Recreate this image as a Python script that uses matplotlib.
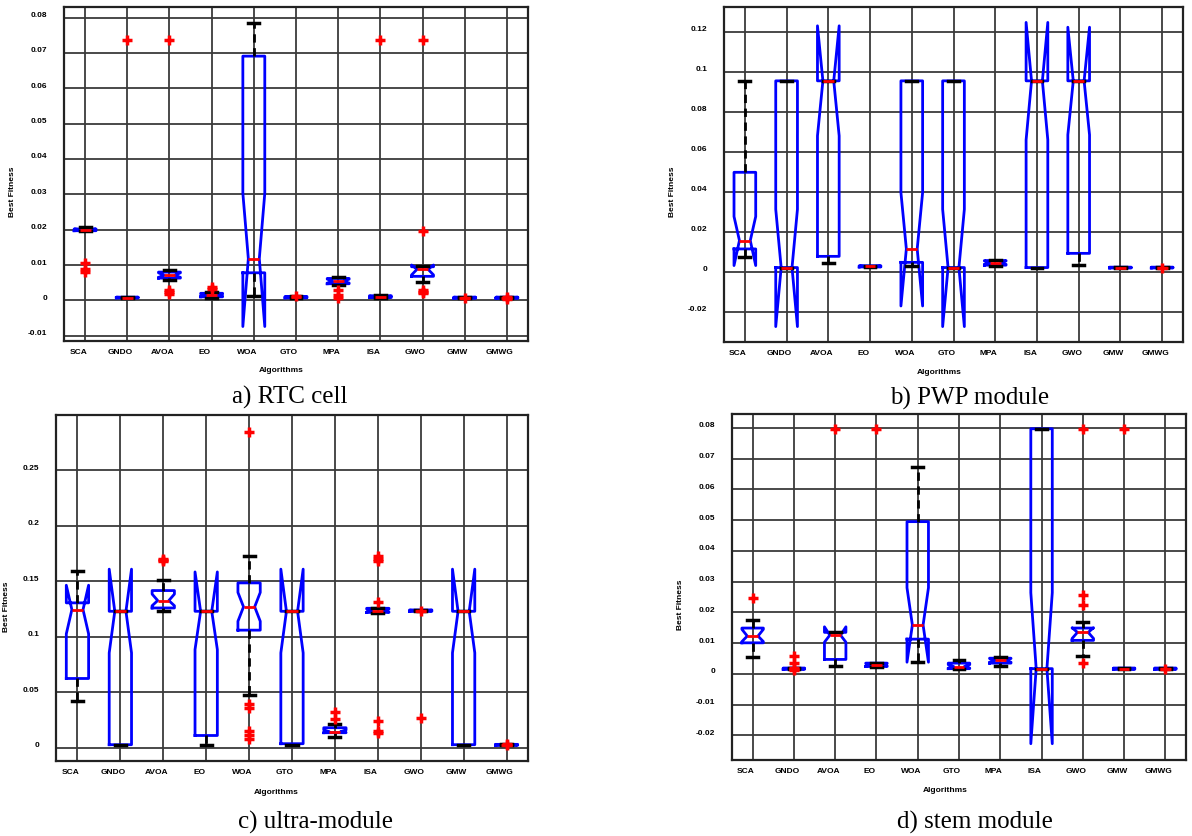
import numpy as np
import matplotlib
matplotlib.use("Agg")
import matplotlib.pyplot as plt
from matplotlib.transforms import ScaledTranslation

NAMES = ["SCA", "GNDO", "AVOA", "EO", "WOA", "GTO", "MPA", "ISA", "GWO", "GMW", "GMWG"]

# a) RTC cell
A_Q1 = [0.0197, 0.0007, 0.0063, 0.0010, 0.0078, 0.0007, 0.0047, 0.0008, 0.0068, 0.0006, 0.0006]
A_MED = [0.0200, 0.0008, 0.0071, 0.0015, 0.0118, 0.0009, 0.0054, 0.0010, 0.0088, 0.0008, 0.0008]
A_Q3 = [0.0202, 0.0009, 0.0080, 0.0020, 0.0691, 0.0011, 0.0062, 0.0013, 0.0095, 0.0009, 0.0009]
A_LO = [0.0195, 0.0007, 0.0058, 0.0006, 0.0012, 0.0006, 0.0043, 0.0007, 0.0052, 0.0006, 0.0006]
A_HI = [0.0207, 0.0009, 0.0087, 0.0024, 0.0786, 0.0012, 0.0067, 0.0014, 0.0097, 0.0009, 0.0009]
A_CILO = [0.0198, 0.0007, 0.0065, 0.0012, -0.0074, 0.0008, 0.0049, 0.0009, 0.0072, 0.0007, 0.0007]
A_CIHI = [0.0202, 0.0009, 0.0078, 0.0018, 0.0303, 0.0010, 0.0060, 0.0012, 0.0100, 0.0009, 0.0009]
A_FLIERS = [[0.0105, 0.0088, 0.0080], [0.0737], [0.0737, 0.0028, 0.0023, 0.0019],
            [0.0038, 0.0032], [], [0.0012], [0.0028, 0.0016, 0.0007], [0.0737],
            [0.0737, 0.0197, 0.0030, 0.0025, 0.0021], [0.0008], [0.0009, 0.0005]]

# b) PWP module
B_Q1 = [0.0115, 0.0022, 0.0078, 0.0025, 0.0048, 0.0022, 0.0034, 0.0022, 0.0093, 0.0020, 0.0020]
B_MED = [0.0157, 0.0022, 0.0955, 0.0028, 0.0115, 0.0022, 0.0047, 0.0955, 0.0955, 0.0022, 0.0022]
B_Q3 = [0.0498, 0.0955, 0.0955, 0.0031, 0.0955, 0.0955, 0.0057, 0.0955, 0.0955, 0.0024, 0.0024]
B_LO = [0.0077, 0.0022, 0.0047, 0.0024, 0.0028, 0.0022, 0.0029, 0.0022, 0.0035, 0.0020, 0.0020]
B_HI = [0.0953, 0.0955, 0.0955, 0.0032, 0.0955, 0.0955, 0.0061, 0.0955, 0.0955, 0.0024, 0.0024]
B_CILO = [0.0032, -0.0273, 0.0680, 0.0026, -0.0170, -0.0273, 0.0038, 0.0660, 0.0685, 0.0021, 0.0021]
B_CIHI = [0.0277, 0.0313, 0.1230, 0.0030, 0.0397, 0.0313, 0.0055, 0.1247, 0.1223, 0.0023, 0.0023]
B_FLIERS = [[], [], [], [], [], [], [], [], [], [], [0.0022]]

# c) ultra-module
C_Q1 = [0.0624, 0.0027, 0.1260, 0.0110, 0.1060, 0.0036, 0.0135, 0.1220, 0.1230, 0.0027, 0.0022]
C_MED = [0.1245, 0.1230, 0.1327, 0.1230, 0.1270, 0.1230, 0.0144, 0.1233, 0.1236, 0.1230, 0.0027]
C_Q3 = [0.1306, 0.1230, 0.1417, 0.1230, 0.1486, 0.1230, 0.0180, 0.1257, 0.1242, 0.1230, 0.0030]
C_LO = [0.0423, 0.0027, 0.1230, 0.0027, 0.0471, 0.0020, 0.0096, 0.1215, 0.1230, 0.0027, 0.0022]
C_HI = [0.1597, 0.1230, 0.1513, 0.1230, 0.1732, 0.1230, 0.0210, 0.1262, 0.1242, 0.1230, 0.0030]
C_CILO = [0.1026, 0.0855, 0.1280, 0.0885, 0.1140, 0.0855, 0.0138, 0.1224, 0.1233, 0.0855, 0.0024]
C_CIHI = [0.1465, 0.1610, 0.1385, 0.1585, 0.1400, 0.1610, 0.0160, 0.1250, 0.1240, 0.1610, 0.0030]
C_FLIERS = [[], [], [0.1705, 0.1690, 0.1680], [], [0.2850, 0.0390, 0.0355, 0.0150, 0.0110, 0.0080],
            [], [0.0321, 0.0255], [0.1725, 0.1700, 0.1680, 0.1310, 0.0237, 0.0150, 0.0130],
            [0.1236, 0.0270], [], [0.0035, 0.0022]]

# d) stem module
D_Q1 = [0.0101, 0.0015, 0.0047, 0.0024, 0.0113, 0.0017, 0.0035, 0.0017, 0.0109, 0.0015, 0.0015]
D_MED = [0.0123, 0.0017, 0.0126, 0.0030, 0.0159, 0.0024, 0.0044, 0.0017, 0.0135, 0.0017, 0.0017]
D_Q3 = [0.0149, 0.0019, 0.0135, 0.0035, 0.0495, 0.0035, 0.0051, 0.0797, 0.0149, 0.0019, 0.0019]
D_LO = [0.0054, 0.0015, 0.0027, 0.0022, 0.0038, 0.0015, 0.0027, 0.0017, 0.0059, 0.0015, 0.0015]
D_HI = [0.0176, 0.0019, 0.0135, 0.0036, 0.0673, 0.0044, 0.0056, 0.0797, 0.0168, 0.0019, 0.0019]
D_CILO = [0.0105, 0.0016, 0.0103, 0.0026, 0.0038, 0.0019, 0.0038, -0.0227, 0.0115, 0.0016, 0.0016]
D_CIHI = [0.0145, 0.0018, 0.0153, 0.0034, 0.0280, 0.0030, 0.0050, 0.0264, 0.0150, 0.0018, 0.0018]
D_FLIERS = [[0.0247], [0.0058, 0.0035, 0.0019, 0.0013], [0.0796], [0.0796], [], [], [], [],
            [0.0796, 0.0258, 0.0225, 0.0035], [0.0796], [0.0017]]

W, H = 1192, 836
SMALL = dict(family="Liberation Sans", weight="bold", size=6)


def px(x, y):
    return x / W, 1 - y / H


def make_stats(q1, med, q3, lo, hi, cilo, cihi, fliers):
    stats = []
    for i in range(len(NAMES)):
        stats.append(dict(q1=q1[i], med=med[i], q3=q3[i], whislo=lo[i], whishi=hi[i],
                          cilo=cilo[i], cihi=cihi[i], fliers=np.array(fliers[i]), label=NAMES[i]))
    return stats


def draw_panel(fig, box, stats, ylim, yticks, caption, cap_xy, alg_xy, yl_xy):
    left, top, right, bottom = box
    ax = fig.add_axes([left / W, 1 - bottom / H, (right - left) / W, (bottom - top) / H])
    ax.bxp(stats, positions=range(1, 12), widths=0.52, shownotches=True,
           boxprops=dict(color="#0000ff", linewidth=2),
           medianprops=dict(color="#ff0000", linewidth=2),
           whiskerprops=dict(color="black", linewidth=2, linestyle=(0, (3, 2))),
           capprops=dict(color="black", linewidth=2.5),
           flierprops=dict(marker="+", markeredgecolor="#ff0000", markersize=6.5, markeredgewidth=2.5))
    ax.set_xlim(0.5, 11.5)
    ax.set_ylim(*ylim)
    ax.set_yticks(yticks)
    ax.set_yticklabels([f"{np.round(v, 3):g}" for v in yticks], **SMALL)
    ax.set_xticks(range(1, 12))
    ax.set_xticklabels(NAMES, **SMALL)
    ax.tick_params(length=0)
    ax.tick_params(axis="x", pad=6)
    ax.tick_params(axis="y", pad=12)
    for lab in ax.get_xticklabels():
        lab.set_transform(lab.get_transform() + ScaledTranslation(-0.07, 0, fig.dpi_scale_trans))
    for lab in ax.get_yticklabels():
        lab.set_transform(lab.get_transform() + ScaledTranslation(0, 0.03, fig.dpi_scale_trans))
    ax.grid(True, color="#3a3a3a", linewidth=1.3)
    for s in ax.spines.values():
        s.set_linewidth(1.6)
        s.set_color("#222222")
    fig.text(*px(*alg_xy), "Algorithms", ha="center", va="center", **SMALL)
    fig.text(*px(*yl_xy), "Best Fitness", ha="center", va="center", rotation=90, **SMALL)
    fig.text(*px(*cap_xy), caption, ha="center", va="center",
             family="Liberation Serif", size=18)
    return ax


fig = plt.figure(figsize=(W / 100, H / 100), dpi=100)

draw_panel(fig, (64, 7, 528, 341),
           make_stats(A_Q1, A_MED, A_Q3, A_LO, A_HI, A_CILO, A_CIHI, A_FLIERS),
           (-0.0115, 0.083), np.arange(-0.01, 0.081, 0.01),
           "a) RTC cell", (290, 397), (281, 371), (13, 192))
draw_panel(fig, (724, 7, 1183, 342),
           make_stats(B_Q1, B_MED, B_Q3, B_LO, B_HI, B_CILO, B_CIHI, B_FLIERS),
           (-0.035, 0.1324), np.arange(-0.02, 0.121, 0.02),
           "b) PWP module", (970, 398), (939, 372), (673, 192))
draw_panel(fig, (56, 415, 528, 761),
           make_stats(C_Q1, C_MED, C_Q3, C_LO, C_HI, C_CILO, C_CIHI, C_FLIERS),
           (-0.012, 0.30), np.arange(0, 0.251, 0.05),
           "c) ultra-module", (316, 822), (276, 792), (7, 607))
draw_panel(fig, (732, 414, 1186, 760),
           make_stats(D_Q1, D_MED, D_Q3, D_LO, D_HI, D_CILO, D_CIHI, D_FLIERS),
           (-0.028, 0.0845), np.arange(-0.02, 0.081, 0.01),
           "d) stem module", (975, 822), (945, 791), (681, 605))

fig.savefig("out.png", dpi=100)
